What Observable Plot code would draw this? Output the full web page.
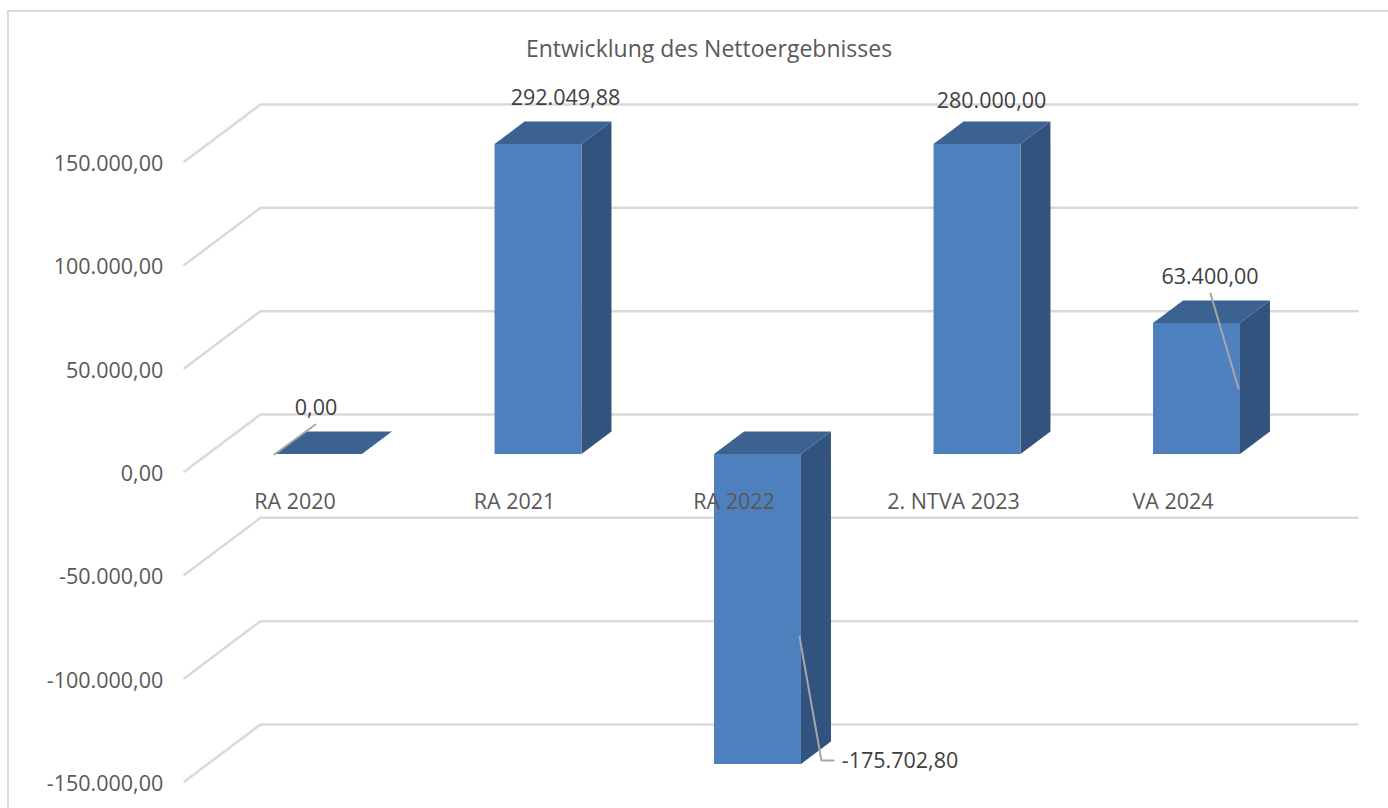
<!DOCTYPE html>
<html lang="de"><head><meta charset="utf-8">
<script src="https://cdn.jsdelivr.net/npm/d3@7"></script>
<script src="https://cdn.jsdelivr.net/npm/@observablehq/plot@0.6"></script>
<style>
html,body{margin:0;padding:0;background:#fff;overflow:hidden}
#frame{position:absolute;left:7px;top:10px;width:1400px;height:820px;border:2px solid #d9d9d9;box-sizing:border-box;pointer-events:none}
#chart{position:absolute;left:0;top:0}
</style></head><body>
<div id="chart"></div><div id="frame"></div>
<script>
const title = "Entwicklung des Nettoergebnisses";
const categories = ["RA 2020","RA 2021","RA 2022","2. NTVA 2023","VA 2024"];
const values = [0, 292049.88, -175702.80, 280000, 63400];
const yTicks = [150000,100000,50000,0,-50000,-100000,-150000];
const axisMax = 150000;

// 3D projection, in scale units
const halfBar = 0.198, depthX = 0.1367, depthY = 10887;
const wallBackX = -0.2665, wallFrontX = -0.6128, wallRightX = 4.731;
const wallBackLift = 19355, wallFrontDrop = 8226;

// label offsets (px) from the bar's clipped end
const labelOffsets = [[-3,-46],[27,-46],[142,-3],[14,-43],[13,-46]];
// leader lines per category: [x, y] in scale units
const leaders = [
  {i:0, pts:[[-0.203,0],[-0.016,14516]]},
  {i:2, pts:[[2.189,-88064],[2.289,-148064],[2.344,-148064]]},
  {i:4, pts:[[4.0615,77903],[4.189,31935]]}
];

const de = v => v.toLocaleString("de-DE",{minimumFractionDigits:2,maximumFractionDigits:2});
const clamp = v => Math.max(-axisMax, Math.min(axisMax, v));
const bars = values.map((v,i)=>({i, v, cat:categories[i], top:Math.max(0,clamp(v)), base:Math.min(0,clamp(v))}));

const grid = yTicks.flatMap(t=>[
  {t,x:wallFrontX,y:t-wallFrontDrop},
  {t,x:wallBackX,y:t+wallBackLift},
  {t,x:wallRightX,y:t+wallBackLift}
]);
const sides = bars.filter(b=>b.top!==b.base).flatMap(b=>[
  {i:b.i,x:b.i+halfBar,y1:b.base,y2:b.top},
  {i:b.i,x:b.i+halfBar+depthX,y1:b.base+depthY,y2:b.top+depthY}
]);
const tops = bars.flatMap(b=>[
  {i:b.i,y:b.top,x1:b.i-halfBar,x2:b.i+halfBar},
  {i:b.i,y:b.top+depthY,x1:b.i-halfBar+depthX,x2:b.i+halfBar+depthX}
]);
const leaderPts = leaders.flatMap(l=>l.pts.map(([x,y])=>({i:l.i,x,y})));

const font = "'Open Sans', sans-serif";
const plot = Plot.plot({
  width:1388, height:808,
  marginLeft:208.75, marginRight:81.75, marginTop:144, marginBottom:44,
  x:{type:"linear",domain:[-0.5,4.5],axis:null},
  y:{type:"linear",domain:[-axisMax,axisMax],axis:null},
  style:{fontFamily:font,fontSize:"21.5px",background:"#fff",overflow:"visible"},
  marks:[
    Plot.line(grid,{x:"x",y:"y",z:"t",stroke:"#d9d9d9",strokeWidth:2.5,curve:"linear"}),
    Plot.axisY({anchor:"left",ticks:yTicks,tickSize:0,tickPadding:46,dy:19.5,tickFormat:de,fill:"#595959",label:null}),
    Plot.areaY(sides,{x:"x",y1:"y1",y2:"y2",z:"i",fill:"#31537d"}),
    Plot.areaX(tops,{y:"y",x1:"x1",x2:"x2",z:"i",fill:"#3b6291"}),
    Plot.rect(bars,{x1:d=>d.i-halfBar,x2:d=>d.i+halfBar,y1:"base",y2:"top",fill:"#4e80bd"}),
    Plot.text(bars,{x:"i",y:()=>0,text:"cat",dx:-24,dy:48,fill:"#595959"}),
    Plot.line(leaderPts,{x:"x",y:"y",z:"i",stroke:"#a6a6a6",strokeWidth:2,curve:"linear"}),
    ...bars.map((b,k)=>Plot.text([b],{
      x:"i",y:d=>d.v<0?d.base:d.top,text:d=>de(d.v),
      dx:labelOffsets[k][0],dy:labelOffsets[k][1],fill:"#404040"})),
    Plot.text([title],{frameAnchor:"top",text:d=>d,fontSize:23,dx:-49,dy:-104,fill:"#595959"})
  ]
});
document.getElementById("chart").append(plot);
</script></body></html>
